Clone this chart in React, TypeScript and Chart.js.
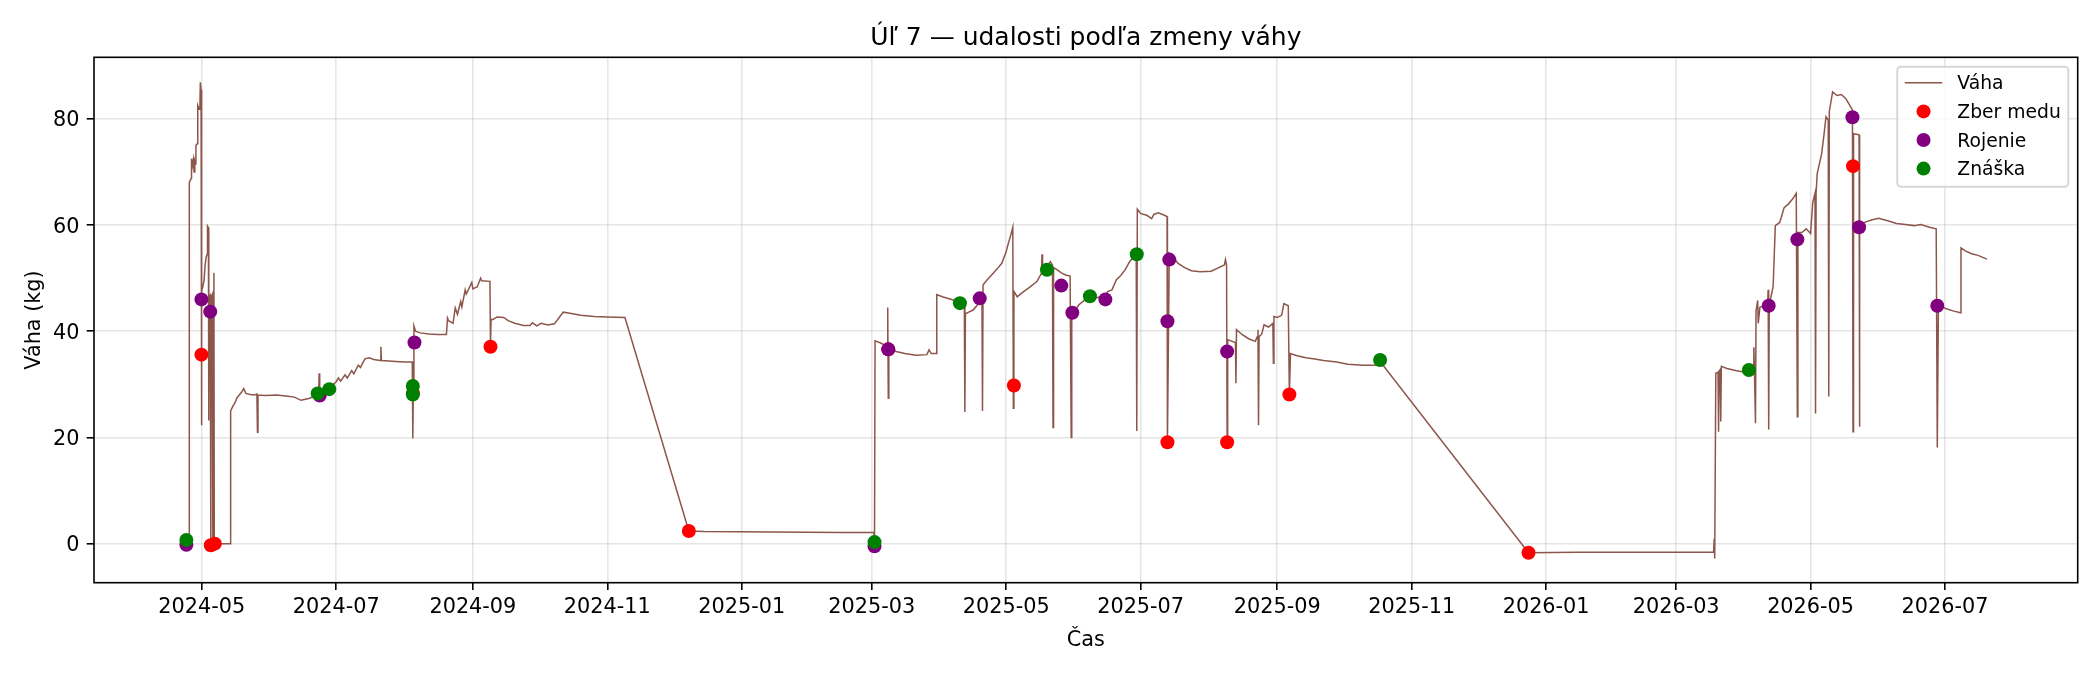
import React, { useEffect, useRef } from "react";
import { Chart, registerables } from "chart.js";

Chart.register(...registerables);

// ---------------- data ----------------
const TITLE = "Úľ 7 — udalosti podľa zmeny váhy";
const X_LABEL = "Čas";
const Y_LABEL = "Váha (kg)";

const weightDates: string[] = [
  "2024-04-24T12", "2024-04-25T06", "2024-04-25T08", "2024-04-25T20", "2024-04-26T06", "2024-04-26T08", "2024-04-26T18", "2024-04-27T04",
  "2024-04-27T12", "2024-04-27T20", "2024-04-28T04", "2024-04-28T08", "2024-04-28T22", "2024-04-29T04", "2024-04-29T18", "2024-04-30T04",
  "2024-04-30T08", "2024-04-30T16", "2024-04-30T20", "2024-05-01T00", "2024-05-01T12", "2024-05-02T00", "2024-05-02T12", "2024-05-03T00",
  "2024-05-03T10", "2024-05-03T14", "2024-05-04T00", "2024-05-04T04", "2024-05-04T08", "2024-05-04T20", "2024-05-05T00", "2024-05-05T04",
  "2024-05-05T08", "2024-05-05T20", "2024-05-06T00", "2024-05-06T04", "2024-05-06T12", "2024-05-06T16", "2024-05-14T00", "2024-05-14T02",
  "2024-05-15", "2024-05-16", "2024-05-17", "2024-05-18", "2024-05-19", "2024-05-20", "2024-05-21", "2024-05-23",
  "2024-05-25", "2024-05-26", "2024-05-26T06", "2024-05-26T12", "2024-05-30", "2024-06-04", "2024-06-08", "2024-06-12",
  "2024-06-15", "2024-06-17", "2024-06-19", "2024-06-21", "2024-06-23", "2024-06-23T06", "2024-06-23T12", "2024-06-25",
  "2024-06-27", "2024-06-29", "2024-07-01", "2024-07-02", "2024-07-03", "2024-07-05", "2024-07-06", "2024-07-08",
  "2024-07-09", "2024-07-11", "2024-07-12", "2024-07-14", "2024-07-16", "2024-07-18", "2024-07-21", "2024-07-21T06",
  "2024-07-21T12", "2024-07-25", "2024-07-28", "2024-08-01", "2024-08-04T12", "2024-08-04T18", "2024-08-05T00", "2024-08-05T06",
  "2024-08-06", "2024-08-08", "2024-08-12", "2024-08-16", "2024-08-20", "2024-08-20T12", "2024-08-21", "2024-08-23",
  "2024-08-24", "2024-08-25", "2024-08-26T12", "2024-08-27", "2024-08-28T12", "2024-08-29", "2024-08-31T12", "2024-09-01",
  "2024-09-03", "2024-09-04T12", "2024-09-05", "2024-09-08T18", "2024-09-09T00", "2024-09-09T06", "2024-09-10", "2024-09-12",
  "2024-09-15", "2024-09-17", "2024-09-20", "2024-09-24", "2024-09-27", "2024-09-28", "2024-09-30", "2024-10-02",
  "2024-10-05", "2024-10-08", "2024-10-10", "2024-10-12", "2024-10-15", "2024-10-20", "2024-10-26", "2024-11-01",
  "2024-11-09", "2024-12-08", "2024-12-15", "2025-01-15", "2025-02-15", "2025-03-02T00", "2025-03-02T06", "2025-03-02T12",
  "2025-03-05", "2025-03-08T00", "2025-03-08T06", "2025-03-08T12", "2025-03-08T18", "2025-03-12", "2025-03-16", "2025-03-21",
  "2025-03-26", "2025-03-27", "2025-03-28", "2025-03-30T06", "2025-03-30T12", "2025-04-02", "2025-04-07", "2025-04-10",
  "2025-04-12T00", "2025-04-12T06", "2025-04-12T12", "2025-04-14", "2025-04-16", "2025-04-18", "2025-04-20T00", "2025-04-20T06",
  "2025-04-20T12", "2025-04-22", "2025-04-25", "2025-04-27", "2025-04-29", "2025-05-01", "2025-05-02", "2025-05-03",
  "2025-05-04T00", "2025-05-04T06", "2025-05-04T12", "2025-05-06", "2025-05-08", "2025-05-10", "2025-05-12", "2025-05-15",
  "2025-05-17T00", "2025-05-17T06", "2025-05-17T12", "2025-05-19", "2025-05-21", "2025-05-22T00", "2025-05-22T06", "2025-05-22T12",
  "2025-05-24", "2025-05-26", "2025-05-28", "2025-05-30T00", "2025-05-30T12", "2025-05-30T18", "2025-06-01", "2025-06-03",
  "2025-06-06", "2025-06-08", "2025-06-11", "2025-06-13", "2025-06-15", "2025-06-16", "2025-06-18", "2025-06-20",
  "2025-06-22", "2025-06-24", "2025-06-26", "2025-06-28", "2025-06-29T00", "2025-06-29T06", "2025-06-29T12", "2025-07-01",
  "2025-07-04", "2025-07-06", "2025-07-07", "2025-07-09", "2025-07-11", "2025-07-13T00", "2025-07-13T04", "2025-07-14T00",
  "2025-07-16", "2025-07-18", "2025-07-21", "2025-07-24", "2025-07-28", "2025-08-02", "2025-08-05", "2025-08-08T00",
  "2025-08-08T12", "2025-08-09T00", "2025-08-09T06", "2025-08-09T12", "2025-08-11", "2025-08-13T00", "2025-08-13T06", "2025-08-13T12",
  "2025-08-16", "2025-08-19", "2025-08-22", "2025-08-23T00", "2025-08-23T06", "2025-08-23T12", "2025-08-23T18", "2025-08-25",
  "2025-08-26", "2025-08-28", "2025-08-30T00", "2025-08-30T06", "2025-08-30T12", "2025-09-01", "2025-09-03", "2025-09-04",
  "2025-09-06T00", "2025-09-06T12", "2025-09-07", "2025-09-10", "2025-09-14", "2025-09-18", "2025-09-22", "2025-09-28",
  "2025-10-03", "2025-10-10", "2025-10-19", "2025-12-24", "2026-01-15", "2026-02-15", "2026-03-18T00", "2026-03-18T06",
  "2026-03-18T12", "2026-03-19T00", "2026-03-20T00", "2026-03-20T06", "2026-03-20T12", "2026-03-21T00", "2026-03-21T06", "2026-03-21T12",
  "2026-03-24", "2026-03-28", "2026-03-31", "2026-04-03", "2026-04-05T00", "2026-04-05T06", "2026-04-05T12", "2026-04-06T00",
  "2026-04-06T06", "2026-04-07T00", "2026-04-07T06", "2026-04-08", "2026-04-10", "2026-04-11T12", "2026-04-11T18", "2026-04-12T00",
  "2026-04-12T06", "2026-04-14", "2026-04-15", "2026-04-17", "2026-04-19", "2026-04-21", "2026-04-23", "2026-04-24T12",
  "2026-04-25T00", "2026-04-25T06", "2026-04-27", "2026-04-29", "2026-05-01", "2026-05-02", "2026-05-03T00", "2026-05-03T06",
  "2026-05-03T12", "2026-05-04", "2026-05-06", "2026-05-07", "2026-05-08", "2026-05-09T00", "2026-05-09T06", "2026-05-09T12",
  "2026-05-11", "2026-05-13", "2026-05-15", "2026-05-17", "2026-05-19", "2026-05-20T00", "2026-05-20T06", "2026-05-20T12",
  "2026-05-23T00", "2026-05-23T04", "2026-05-23T08", "2026-05-26", "2026-05-29", "2026-06-01", "2026-06-05", "2026-06-09",
  "2026-06-13", "2026-06-17", "2026-06-20", "2026-06-24", "2026-06-27T00", "2026-06-27T12", "2026-06-28", "2026-07-02",
  "2026-07-05", "2026-07-08T00", "2026-07-08T06", "2026-07-10", "2026-07-13", "2026-07-16", "2026-07-20",
];

const weightValues: number[] = [
  0.3, 0.3, 68.0, 68.5, 68.8, 72.5, 71.2, 72.3,
  70.0, 72.0, 71.5, 75.0, 75.3, 82.5, 81.8, 82.8,
  86.9, 85.5, 22.3, 47.5, 48.5, 49.5, 52.5, 54.0,
  54.5, 59.8, 59.5, 23.2, 46.5, 46.8, 46.0, 0.0,
  46.5, 47.0, 0.0, 46.8, 51.0, 0.0, 0.0, 25.0,
  25.8, 26.5, 27.5, 28.0, 28.5, 29.2, 28.3, 28.1,
  28.0, 28.2, 21.0, 28.0, 27.9, 28.0, 27.8, 27.6,
  27.0, 27.2, 27.4, 27.8, 28.0, 32.1, 28.2, 28.6,
  29.0, 29.8, 30.5, 31.2, 30.6, 31.8, 31.2, 32.6,
  32.0, 33.6, 33.2, 34.8, 35.0, 34.7, 34.5, 37.1,
  34.5, 34.4, 34.3, 34.2, 34.2, 19.8, 30.0, 41.0,
  40.0, 39.7, 39.5, 39.4, 39.4, 42.5, 42.0, 41.5,
  44.4, 43.2, 45.6, 44.6, 47.8, 47.0, 49.2, 48.0,
  48.4, 50.0, 49.5, 49.4, 37.1, 42.3, 42.2, 42.7,
  42.6, 42.0, 41.5, 41.1, 41.1, 41.6, 41.0, 41.5,
  41.2, 41.4, 42.5, 43.6, 43.4, 43.0, 42.8, 42.7,
  42.6, 2.4, 2.3, 2.2, 2.1, 2.1, -0.5, 38.2,
  37.8, 37.2, 44.5, 27.4, 36.8, 36.2, 35.8, 35.5,
  35.6, 36.5, 35.8, 35.8, 46.9, 46.5, 45.9, 45.4,
  45.2, 24.8, 43.3, 43.6, 44.0, 45.0, 46.5, 25.0,
  48.7, 49.5, 50.9, 51.8, 52.8, 55.0, 56.6, 58.0,
  59.6, 25.5, 47.5, 46.5, 47.2, 47.8, 48.4, 49.4,
  50.9, 54.5, 51.0, 51.6, 53.1, 52.5, 21.9, 52.0,
  51.6, 51.0, 50.6, 50.4, 20.0, 44.0, 43.8, 45.0,
  46.0, 46.6, 46.3, 46.6, 46.2, 47.5, 47.8, 49.7,
  50.5, 51.6, 53.1, 54.1, 54.4, 21.2, 63.0, 62.2,
  61.8, 61.2, 62.0, 62.3, 62.0, 61.6, 19.1, 54.7,
  53.8, 52.8, 52.0, 51.4, 51.2, 51.3, 51.9, 52.5,
  53.5, 52.4, 19.1, 38.4, 38.2, 37.9, 30.2, 40.3,
  39.4, 38.6, 38.1, 39.0, 40.3, 22.3, 39.0, 39.5,
  41.2, 40.8, 41.5, 34.0, 42.8, 42.6, 43.0, 45.2,
  44.8, 28.1, 35.8, 35.4, 35.0, 34.8, 34.5, 34.2,
  33.8, 33.6, 33.6, -1.7, -1.6, -1.6, -1.6, 0.9,
  -2.8, 32.1, 32.3, 21.1, 32.5, 32.8, 23.0, 33.4,
  33.0, 32.6, 32.4, 32.5, 33.0, 37.0, 33.0, 22.7,
  43.8, 45.8, 41.5, 44.5, 44.8, 45.2, 47.8, 21.5,
  45.0, 48.4, 59.9, 60.5, 63.3, 64.0, 65.0, 66.0,
  23.9, 58.6, 58.6, 59.3, 58.4, 64.3, 66.0, 24.5,
  66.0, 69.7, 73.4, 76.7, 80.4, 79.8, 27.7, 81.4,
  85.1, 84.4, 84.6, 83.8, 82.4, 81.7, 21.1, 77.2,
  77.0, 22.0, 59.9, 60.6, 61.0, 61.3, 60.8, 60.3,
  60.1, 59.9, 60.1, 59.6, 59.3, 18.1, 44.8, 44.2,
  43.8, 43.5, 55.7, 55.2, 54.6, 54.3, 53.6,
];

// Zber medu (honey harvest)
const honeyDates: string[] = [
  "2024-04-30T20", "2024-05-05T02", "2024-05-06T22", "2024-08-04T20", "2024-09-09T00", "2024-12-08",
  "2025-03-08T12", "2025-05-04T12", "2025-07-13T04", "2025-08-09T06", "2025-09-06T12", "2025-12-24", "2026-05-20T06",
];
const honeyValues: number[] = [35.6, -0.3, 0.0, 28.3, 37.1, 2.4, 36.6, 29.8, 19.1, 19.1, 28.1, -1.7, 71.1];

// Rojenie (swarming)
const swarmDates: string[] = [
  "2024-04-24T00", "2024-04-30T20", "2024-05-04T20", "2024-06-23T12", "2024-08-05T12",
  "2025-03-02T06", "2025-03-08T12", "2025-04-19", "2025-05-26", "2025-05-31", "2025-06-15",
  "2025-07-13T04", "2025-07-14", "2025-08-09T06",
  "2026-04-12", "2026-04-25", "2026-05-20", "2026-05-23", "2026-06-27T12",
];
const swarmValues: number[] = [
  -0.2, 46.0, 43.7, 27.9, 37.9,
  -0.5, 36.6, 46.2, 48.6, 43.5, 46.0,
  41.9, 53.5, 36.2,
  44.8, 57.3, 80.3, 59.6, 44.8,
];

// Znáška (nectar flow)
const flowDates: string[] = [
  "2024-04-24T00", "2024-06-22T14", "2024-06-27T20", "2024-08-04T18", "2024-08-04T18",
  "2025-03-02T06", "2025-04-10", "2025-05-19T12", "2025-06-08", "2025-06-29T06", "2025-10-17T16", "2026-04-03",
];
const flowValues: number[] = [0.7, 28.3, 29.1, 29.7, 28.1, 0.3, 45.3, 51.6, 46.6, 54.5, 34.6, 32.7];

const xTickDates: string[] = [
  "2024-05-01", "2024-07-01", "2024-09-01", "2024-11-01", "2025-01-01", "2025-03-01", "2025-05-01",
  "2025-07-01", "2025-09-01", "2025-11-01", "2026-01-01", "2026-03-01", "2026-05-01", "2026-07-01",
];
const xTickLabels: string[] = [
  "2024-05", "2024-07", "2024-09", "2024-11", "2025-01", "2025-03", "2025-05",
  "2025-07", "2025-09", "2025-11", "2026-01", "2026-03", "2026-05", "2026-07",
];
const yTickValues: number[] = [0, 20, 40, 60, 80];
const yTickLabels: string[] = ["0", "20", "40", "60", "80"];

const X_MIN = "2024-03-13T02";
const X_MAX = "2026-08-30T05";
const Y_MIN = -7.35;
const Y_MAX = 91.6;

const legendLabels: string[] = ["Váha", "Zber medu", "Rojenie", "Znáška"];

// ---------------- styling ----------------
const FONT = "'DejaVu Sans', 'Liberation Sans', sans-serif";
const LINE_COLOR = "#8c564b";
const HONEY_COLOR = "#ff0000";
const SWARM_COLOR = "#800080";
const FLOW_COLOR = "#008000";
const GRID_COLOR = "rgba(176,176,176,0.32)";
const MARKER_R = 7;

function toMs(s: string): number {
  const [d, t] = s.split("T");
  const [y, m, day] = d.split("-").map(Number);
  let h = 0;
  let mi = 0;
  if (t) {
    const p = t.split(":").map(Number);
    h = p[0] || 0;
    mi = p[1] || 0;
  }
  return Date.UTC(y, m - 1, day, h, mi);
}

function toPoints(ds: string[], vs: number[]) {
  return ds.map((d, i) => ({ x: toMs(d), y: vs[i] }));
}

const decorPlugin = {
  id: "decor",
  afterDraw(chart: any) {
    const { ctx, chartArea: a, scales } = chart;
    const xs = scales.x;
    const ys = scales.y;
    ctx.save();
    ctx.fillStyle = "#000";

    // tick labels
    ctx.font = `20.8px ${FONT}`;
    ctx.textAlign = "center";
    ctx.textBaseline = "alphabetic";
    xTickDates.forEach((d, i) => {
      ctx.fillText(xTickLabels[i], xs.getPixelForValue(toMs(d)), a.bottom + 30.3);
    });
    ctx.textAlign = "right";
    yTickValues.forEach((v, i) => {
      ctx.fillText(yTickLabels[i], a.left - 14.6, ys.getPixelForValue(v) + 7.6);
    });

    // frame (all four spines)
    ctx.strokeStyle = "#000";
    ctx.lineWidth = 1.6;
    ctx.strokeRect(a.left, a.top, a.right - a.left, a.bottom - a.top);

    // title
    ctx.font = `25px ${FONT}`;
    ctx.textAlign = "center";
    ctx.fillText(TITLE, (a.left + a.right) / 2, a.top - 12.5);

    // axis labels
    ctx.font = `20.8px ${FONT}`;
    ctx.fillText(X_LABEL, (a.left + a.right) / 2, 646);
    ctx.save();
    ctx.translate(40, (a.top + a.bottom) / 2);
    ctx.rotate(-Math.PI / 2);
    ctx.textAlign = "center";
    ctx.fillText(Y_LABEL, 0, 0);
    ctx.restore();

    // legend
    const fs = 18.75;
    const lw = 171;
    const lh = 120;
    const lx = a.right - 9.4 - lw;
    const ly = a.top + 9.4;
    const r = 3.75;
    ctx.beginPath();
    ctx.moveTo(lx + r, ly);
    ctx.lineTo(lx + lw - r, ly);
    ctx.arcTo(lx + lw, ly, lx + lw, ly + r, r);
    ctx.lineTo(lx + lw, ly + lh - r);
    ctx.arcTo(lx + lw, ly + lh, lx + lw - r, ly + lh, r);
    ctx.lineTo(lx + r, ly + lh);
    ctx.arcTo(lx, ly + lh, lx, ly + lh - r, r);
    ctx.lineTo(lx, ly + r);
    ctx.arcTo(lx, ly, lx + r, ly, r);
    ctx.closePath();
    ctx.fillStyle = "rgba(255,255,255,0.8)";
    ctx.fill();
    ctx.strokeStyle = "rgba(204,204,204,0.8)";
    ctx.lineWidth = 2;
    ctx.stroke();

    const colors = [LINE_COLOR, HONEY_COLOR, SWARM_COLOR, FLOW_COLOR];
    const hx0 = lx + 7.5;
    const hx1 = hx0 + 37.5;
    const tx = hx1 + 15;
    ctx.font = `${fs}px ${FONT}`;
    ctx.textAlign = "left";
    legendLabels.forEach((lab, i) => {
      const cy = ly + 16.1 + i * 28.6;
      if (i === 0) {
        ctx.strokeStyle = LINE_COLOR;
        ctx.lineWidth = 1.5;
        ctx.beginPath();
        ctx.moveTo(hx0, cy);
        ctx.lineTo(hx1, cy);
        ctx.stroke();
      } else {
        ctx.fillStyle = colors[i];
        ctx.beginPath();
        ctx.arc((hx0 + hx1) / 2, cy, MARKER_R, 0, Math.PI * 2);
        ctx.fill();
      }
      ctx.fillStyle = "#000";
      ctx.fillText(lab, tx, cy + 6.6);
    });

    ctx.restore();
  },
};

export default function App() {
  const canvasRef = useRef<HTMLCanvasElement | null>(null);

  useEffect(() => {
    const canvas = canvasRef.current;
    if (!canvas) return;

    const scatterDs = (label: string, ds: string[], vs: number[], color: string, order: number) => ({
      label,
      data: toPoints(ds, vs),
      backgroundColor: color,
      pointBackgroundColor: color,
      borderWidth: 0,
      pointBorderWidth: 0,
      pointRadius: MARKER_R,
      pointHoverRadius: MARKER_R,
      showLine: false,
      order,
    });

    const chart = new Chart(canvas, {
      type: "scatter",
      data: {
        datasets: [
          {
            label: "Váha",
            data: toPoints(weightDates, weightValues),
            showLine: true,
            borderColor: LINE_COLOR,
            backgroundColor: LINE_COLOR,
            borderWidth: 1.5,
            pointRadius: 0,
            pointHoverRadius: 0,
            tension: 0,
            order: 4,
          } as any,
          scatterDs("Zber medu", honeyDates, honeyValues, HONEY_COLOR, 3),
          scatterDs("Rojenie", swarmDates, swarmValues, SWARM_COLOR, 2),
          scatterDs("Znáška", flowDates, flowValues, FLOW_COLOR, 1),
        ],
      },
      options: {
        animation: false,
        responsive: false,
        devicePixelRatio: 1,
        events: [],
        layout: { padding: { top: 57.3, right: 22.3, left: 0, bottom: 0 } },
        plugins: {
          legend: { display: false },
          title: { display: false },
          tooltip: { enabled: false },
        },
        scales: {
          x: {
            type: "linear",
            min: toMs(X_MIN),
            max: toMs(X_MAX),
            afterBuildTicks: (s: any) => {
              s.ticks = xTickDates.map((d) => ({ value: toMs(d) }));
            },
            afterFit: (s: any) => {
              s.height = 92.3;
            },
            grid: {
              color: GRID_COLOR,
              lineWidth: 1.6,
              drawTicks: true,
              tickLength: 7.3,
              tickColor: "#000",
              tickWidth: 1.6,
            },
            border: { display: false },
            ticks: { display: false, autoSkip: false, maxRotation: 0 },
          },
          y: {
            type: "linear",
            min: Y_MIN,
            max: Y_MAX,
            afterBuildTicks: (s: any) => {
              s.ticks = yTickValues.map((v) => ({ value: v }));
            },
            afterFit: (s: any) => {
              s.width = 94;
            },
            grid: {
              color: GRID_COLOR,
              lineWidth: 1.6,
              drawTicks: true,
              tickLength: 7.3,
              tickColor: "#000",
              tickWidth: 1.6,
            },
            border: { display: false },
            ticks: { display: false },
          },
        },
      } as any,
      plugins: [decorPlugin],
    });

    return () => {
      chart.destroy();
    };
  }, []);

  return (
    <div style={{ position: "fixed", left: 0, top: 0, width: 2100, height: 675, background: "#ffffff" }}>
      <canvas ref={canvasRef} width={2100} height={675} style={{ display: "block", width: 2100, height: 675 }} />
    </div>
  );
}
